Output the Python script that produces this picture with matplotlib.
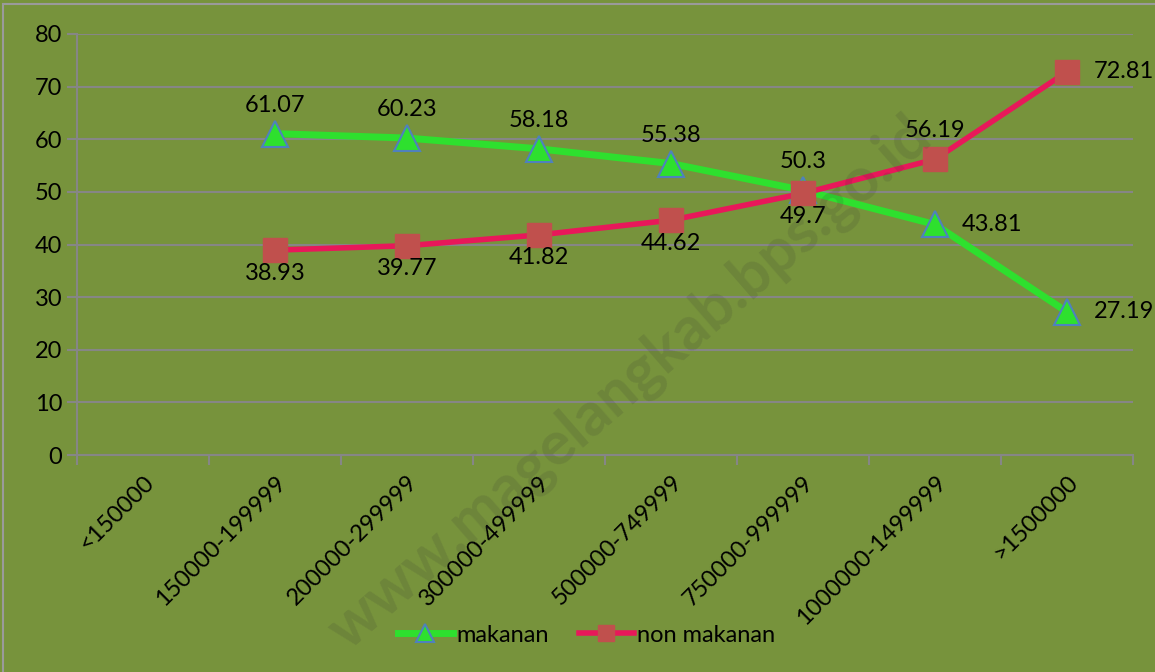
import matplotlib.pyplot as plt
from matplotlib.patches import Rectangle

kategori = ['<150000', '150000-199999', '200000-299999', '300000-499999',
            '500000-749999', '750000-999999', '1000000-1499999', '>1500000']
makanan = [None, 61.07, 60.23, 58.18, 55.38, 50.3, 43.81, 27.19]
non_makanan = [None, 38.93, 39.77, 41.82, 44.62, 49.7, 56.19, 72.81]

# posisi label data: 'a' atas, 'b' bawah, 'r' kanan
pos_mak = [None, 'a', 'a', 'a', 'a', 'a', 'r', 'r']
pos_non = [None, 'b', 'b', 'b', 'b', 'b', 'a', 'r']

plt.rcParams['font.family'] = ['Lato', 'DejaVu Sans']
fs = 17
bg = '#77933C'
fig = plt.figure(figsize=(11.55, 6.72), dpi=100, facecolor=bg)
ax = fig.add_axes([77/1155, 1-455/672, (1133-77)/1155, (455-34)/672])
ax.set_facecolor(bg)
fig.patches.append(Rectangle((3/1155, -0.1), 1.2, 1-4/672+0.1, transform=fig.transFigure,
                             fill=False, edgecolor='#9a9a9a', lw=1.5))

# watermark
fig.text(0.545, 0.43, 'www.magelangkab.bps.go.id', rotation=41, fontsize=44, fontweight='bold',
         color='#333333', alpha=0.15, ha='center', va='center')

x = list(range(len(kategori)))
xs = [i + 0.5 for i in x]
xm = [xs[i] for i in x if makanan[i] is not None]
ym = [v for v in makanan if v is not None]
yn = [v for v in non_makanan if v is not None]

ax.plot(xm, ym, color='#2EE02E', lw=5, marker='^', ms=19, mfc='#2EE02E',
        mec='#4F81BD', mew=1.5, label='makanan', zorder=3)
ax.plot(xm, yn, color='#E8185A', lw=4, marker='s', ms=17, mfc='#C0504D',
        mec='#C0504D', label='non makanan', zorder=3)

def label(xx, yy, pos):
    if pos == 'a':
        ax.annotate(f'{yy:g}', (xx, yy), xytext=(0, 13), textcoords='offset points',
                    ha='center', va='bottom', fontsize=fs)
    elif pos == 'b':
        ax.annotate(f'{yy:g}', (xx, yy), xytext=(0, -9), textcoords='offset points',
                    ha='center', va='top', fontsize=fs)
    else:
        ax.annotate(f'{yy:g}', (xx, yy), xytext=(19, 0), textcoords='offset points',
                    ha='left', va='center', fontsize=fs)

for i in x:
    if makanan[i] is not None:
        label(xs[i], makanan[i], pos_mak[i])
        label(xs[i], non_makanan[i], pos_non[i])

ax.set_xlim(0, len(kategori))
ax.set_ylim(0, 80)
ax.set_yticks(range(0, 81, 10))
ax.yaxis.grid(True, color='#868686', lw=1.5)
ax.set_axisbelow(True)
ax.set_xticks(range(len(kategori) + 1))
ax.set_xticklabels([])
ax.set_xticks(xs, minor=True)
ax.set_xticklabels(kategori, minor=True, rotation=45, ha='right', va='top',
                   rotation_mode='anchor', fontsize=fs)
ax.tick_params(axis='x', which='minor', length=0, pad=12)
ax.tick_params(axis='x', which='major', length=7, color='#868686', width=1.5)
ax.tick_params(axis='y', length=7, color='#868686', width=1.5, labelsize=fs)
for s in ['top', 'right']:
    ax.spines[s].set_visible(False)
for s in ['left', 'bottom']:
    ax.spines[s].set_color('#868686')
    ax.spines[s].set_linewidth(1.5)

fig.legend(loc='center', bbox_to_anchor=(0.508, 1-635/672), ncol=2, frameon=False,
           fontsize=fs, handlelength=2.3, columnspacing=1.3, handletextpad=0.15,
           markerscale=0.7)

plt.savefig('out.png', dpi=100, facecolor=bg)
